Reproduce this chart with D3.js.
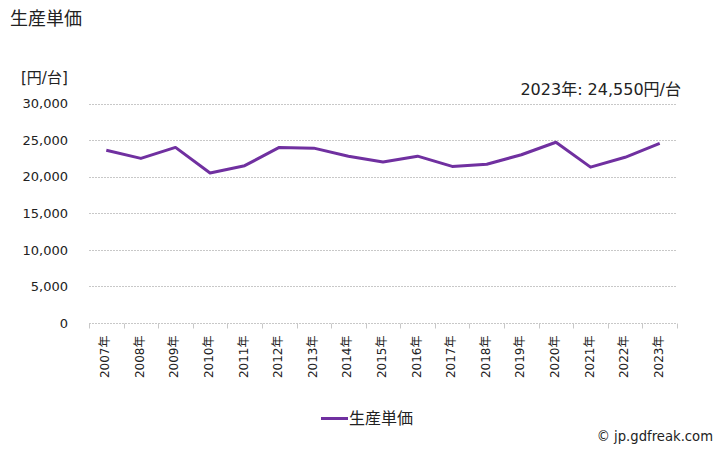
<!DOCTYPE html>
<html><head><meta charset="utf-8">
<script src="https://cdn.jsdelivr.net/npm/d3@7"></script>
<style>body{margin:0;background:#fff}svg{display:block}</style>
</head><body>
<script>
const categories = ["2007年","2008年","2009年","2010年","2011年","2012年","2013年","2014年","2015年","2016年","2017年","2018年","2019年","2020年","2021年","2022年","2023年"];
const values = [23600,22500,24000,20500,21500,24000,23900,22800,22000,22800,21400,21700,23000,24700,21300,22650,24550];
const yTicks = [0,5000,10000,15000,20000,25000,30000];
const seriesName = "生産単価";
const title = "生産単価";
const unitLabel = "[円/台]";
const annotation = "2023年: 24,550円/台";
const credit = "© jp.gdfreak.com";

(function(){
const W=728,H=450;
const svg=d3.select("body").append("svg").attr("width",W).attr("height",H);
const mL=89,mR=677,mT=103.5,mB=323;
const x=d3.scaleBand().domain(categories).range([mL,mR]);
const y=d3.scaleLinear().domain([0,30000]).range([mB,mT]);
const jp='Noto Sans CJK JP';
const mix="'DejaVu Sans','Noto Sans CJK JP'";

svg.append("text").attr("x",10).attr("y",25).attr("font-size",18).attr("font-family",jp).attr("fill","#222").text(title);
svg.append("text").attr("x",21).attr("y",83).attr("font-size",15).attr("font-family",mix).attr("fill","#222").text(unitLabel);
svg.append("text").attr("x",681).attr("y",95).attr("text-anchor","end").attr("font-size",16).attr("font-family",mix).attr("fill","#222").text(annotation);

// grid
svg.append("g").selectAll("line").data(yTicks.filter(d=>d>0)).join("line")
 .attr("x1",mL).attr("x2",mR).attr("y1",d=>Math.round(y(d))+0.5).attr("y2",d=>Math.round(y(d))+0.5)
 .attr("stroke","#c8c8c8").attr("stroke-dasharray","2,1");

// y axis labels
const ya=svg.append("g").attr("transform",`translate(${mL},0)`).call(d3.axisLeft(y).tickValues(yTicks).tickSize(0).tickPadding(21).tickFormat(d3.format(",")));
ya.select(".domain").remove();
ya.attr("font-family","DejaVu Sans").attr("font-size",13);
ya.selectAll("text").attr("fill","#222");

// x axis
const xa=svg.append("g").attr("transform",`translate(0,${Math.round(mB)+0.5})`);
xa.append("line").attr("x1",mL).attr("x2",mR).attr("stroke","#c8c8c8").attr("stroke-dasharray","2,1");
const tickPos=categories.map(c=>x(c)).concat([mR]);
xa.selectAll("line.t").data(tickPos).join("line").attr("class","t")
 .attr("x1",d=>Math.round(d)+0.5).attr("x2",d=>Math.round(d)+0.5).attr("y1",0).attr("y2",5).attr("stroke","#c8c8c8");
xa.selectAll("text").data(categories).join("text")
 .attr("transform",d=>`translate(${x(d)+x.bandwidth()/2+3},12) rotate(-90)`)
 .attr("text-anchor","end").attr("font-size",12).attr("fill","#222").attr("font-family",mix).text(d=>d);

// line
const line=d3.line().x((d,i)=>x(categories[i])+x.bandwidth()/2).y(d=>y(d));
svg.append("path").datum(values).attr("d",line).attr("fill","none").attr("stroke","#7030a0").attr("stroke-width",3).attr("stroke-linejoin","round");

// legend
svg.append("line").attr("x1",321).attr("x2",348).attr("y1",418.5).attr("y2",418.5).attr("stroke","#7030a0").attr("stroke-width",3);
svg.append("text").attr("x",349).attr("y",424).attr("font-size",16).attr("font-family",jp).attr("fill","#222").text(seriesName);

svg.append("text").attr("x",713).attr("y",441).attr("text-anchor","end").attr("font-size",13.2).attr("font-family",mix).attr("fill","#222").text(credit);
})();
</script>
</body></html>
